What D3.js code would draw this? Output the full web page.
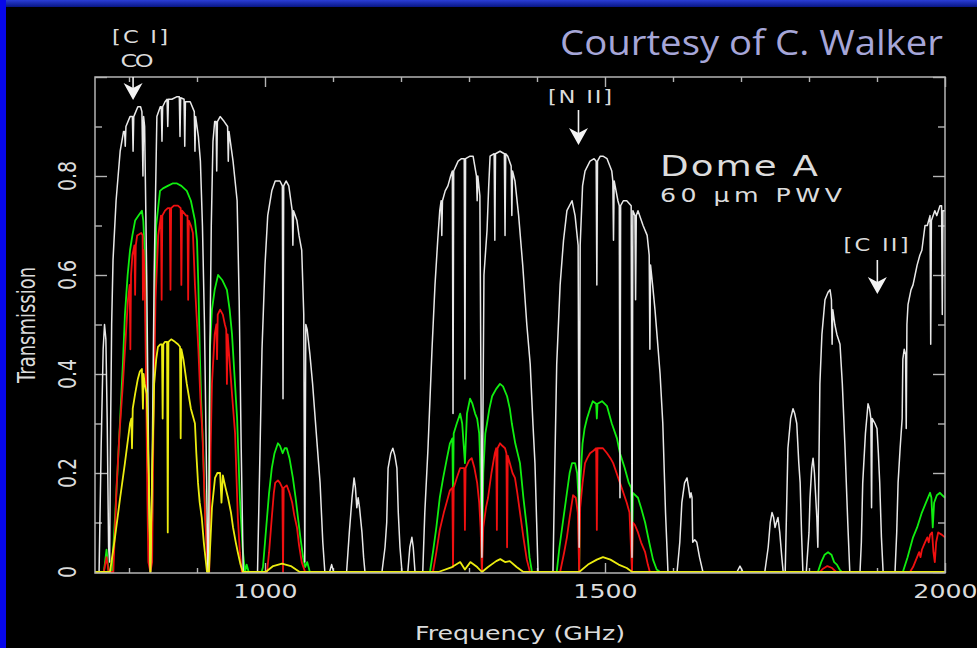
<!DOCTYPE html>
<html>
<head>
<meta charset="utf-8">
<script src="https://cdn.jsdelivr.net/npm/d3@7"></script>
<style>
  html, body { margin: 0; padding: 0; background: #000; }
  svg { display: block; }
</style>
</head>
<body>
<svg id="chart" width="977" height="648"></svg>
<script>
// Atmospheric transmission spectra, [frequency (GHz), transmission]
const traceWhite = [
  [750,0],[756,0],[759,0.25],[762,0.45],[764,0.50],[766,0.47],[768,0.30],[770,0.05],[771.5,0.02],[773,0.3],[774.5,0.5],
  [776.5,0.63],[781,0.75],[787,0.85],[792,0.89],[793.5,0.89],[794.5,0.86],[795.5,0.9],[801.5,0.92],[805,0.92],[806,0.85],
  [807,0.92],[813,0.94],[817,0.94],[819,0.93],[820.5,0.80],[821.5,0.92],[823,0.9],[826,0.6],[829,0.2],[831.5,0],[834,0.2],
  [837,0.6],[841,0.92],[846,0.94],[847.5,0.94],[848.5,0.87],[849.5,0.94],[853,0.95],[856,0.955],[857,0.90],[858,0.955],
  [863,0.955],[870,0.96],[874,0.96],[875,0.88],[876,0.958],[881,0.955],[882,0.86],[883,0.95],[890,0.95],[896,0.93],
  [897,0.85],[898,0.92],[902,0.88],[905,0.83],[908,0.70],[911,0.50],[913.5,0.25],[916,0],[917,0],[919,0.45],[921,0.7],
  [923.5,0.87],[926,0.91],[928,0.91],[929,0.81],[930,0.91],[934,0.92],[940,0.91],[945,0.90],[946,0.83],[947,0.89],
  [953,0.83],[959,0.75],[962,0.55],[965,0.25],[968,0],[989,0],[992,0.2],[995.6,0.45],[1000,0.62],[1004,0.72],[1010,0.77],
  [1015,0.79],[1022,0.79],[1025.5,0.78],[1026.5,0.35],[1027.5,0.78],[1031,0.79],[1035,0.78],[1040,0.73],[1041,0.66],
  [1042,0.73],[1047,0.71],[1050,0.68],[1054,0.65],[1057,0.52],[1058.5,0.02],[1060,0.5],[1062,0.49],[1066,0.44],[1070,0.38],
  [1076,0.27],[1081,0.18],[1085,0.06],[1088,0],[1095,0],[1098,0.015],[1101,0],[1120,0],[1124,0.08],[1128,0.15],[1131,0.19],
  [1133,0.17],[1135,0.13],[1137,0.15],[1139,0.13],[1142.6,0.08],[1145,0.03],[1147,0],[1172,0],[1176.5,0.05],[1179,0.1],
  [1181,0.21],[1185,0.24],[1188,0.25],[1191,0.235],[1194,0.21],[1196,0.12],[1198.5,0.05],[1201.5,0],[1210,0],[1213,0.05],
  [1216,0.07],[1218,0.05],[1220.6,0],[1232,0],[1235,0.12],[1239.7,0.25],[1245.6,0.45],[1250,0.58],[1254,0.67],[1257,0.73],
  [1259,0.75],[1260,0.68],[1261,0.75],[1265,0.77],[1269,0.78],[1273,0.80],[1275.5,0.81],[1276.5,0.32],[1277.5,0.81],
  [1284,0.83],[1289,0.835],[1293,0.835],[1294,0.39],[1295,0.835],[1301.5,0.84],[1306,0.84],[1311,0.80],[1312,0.75],
  [1313,0.80],[1316,0.76],[1319,0.03],[1322,0.6],[1326.5,0.69],[1329,0.78],[1331,0.84],[1337,0.845],[1338,0.67],
  [1339,0.845],[1345.6,0.85],[1352,0.845],[1353,0.68],[1354,0.845],[1357,0.84],[1362,0.82],[1363,0.72],[1364,0.81],
  [1367.6,0.79],[1373,0.72],[1379,0.62],[1385,0.50],[1390,0.42],[1394,0.30],[1397,0.22],[1399.5,0.1],[1401.5,0],
  [1423.5,0],[1426,0.2],[1429,0.42],[1434,0.58],[1439,0.67],[1444,0.73],[1451.5,0.75],[1456,0.72],[1460.5,0.66],
  [1462,0.05],[1463.5,0.66],[1467,0.78],[1470.6,0.81],[1478,0.83],[1484,0.835],[1487,0.83],[1488,0.58],[1489,0.83],
  [1493,0.84],[1497,0.84],[1503,0.835],[1510,0.81],[1511.5,0.79],[1512.5,0.67],[1513.5,0.79],[1519,0.75],[1521,0.74],
  [1522,0.15],[1523,0.74],[1527,0.75],[1532,0.75],[1538.5,0.74],[1539.7,0.03],[1541,0.73],[1544,0.72],[1545,0.55],
  [1546,0.72],[1548.5,0.73],[1556,0.70],[1562,0.68],[1565,0.64],[1566,0.45],[1567,0.62],[1570,0.58],[1573.5,0.53],
  [1577,0.47],[1581,0.40],[1585,0.30],[1589,0.12],[1592.6,0],[1606,0],[1610,0.06],[1613,0.14],[1617,0.18],[1620.6,0.19],
  [1623,0.17],[1625,0.15],[1626.5,0.16],[1628,0.15],[1629,0.06],[1632,0.065],[1635,0.06],[1639,0.03],[1644,0],[1694,0],
  [1698.5,0.012],[1703,0],[1735,0],[1740,0.05],[1743,0.1],[1745.6,0.12],[1748,0.11],[1750,0.09],[1752,0.1],[1754.4,0.11],
  [1757,0.08],[1760,0.03],[1762,0],[1765,0],[1769,0.25],[1773,0.31],[1776.5,0.33],[1779,0.32],[1782,0.30],[1785,0.22],
  [1787,0.18],[1789,0.08],[1791,0],[1796,0],[1800,0.08],[1801.5,0.15],[1804,0.21],[1806,0.23],[1808,0.2],[1811.5,0.11],
  [1813,0.05],[1814,0.15],[1816,0.38],[1819,0.48],[1823.5,0.55],[1828,0.565],[1831,0.57],[1833,0.55],[1834,0.46],
  [1835,0.53],[1838,0.50],[1841,0.48],[1845.6,0.46],[1849,0.38],[1853,0.25],[1857,0.1],[1860,0],[1875,0],[1877,0.06],
  [1879,0.18],[1883,0.28],[1886.8,0.34],[1889,0.33],[1891,0.31],[1892,0.13],[1893,0.31],[1897,0.30],[1900,0.29],
  [1902,0.24],[1904,0.18],[1906.5,0.07],[1909,0],[1926.5,0],[1929,0.08],[1931,0.18],[1934,0.25],[1937,0.31],[1938,0.43],
  [1940,0.45],[1942,0.44],[1943,0.29],[1944,0.5],[1945.6,0.54],[1950,0.57],[1953,0.58],[1956,0.60],[1959,0.62],
  [1963,0.64],[1966,0.65],[1970.6,0.70],[1974,0.70],[1978,0.72],[1979,0.46],[1980,0.71],[1985,0.73],[1988,0.72],
  [1992.6,0.74],[1995,0.74],[1996,0.52],[1997,0.73],[2000,0.73]
];

const traceGreen = [
  [750,0],[763,0],[767,0.045],[770,0],[775,0],[779,0.1],[783,0.2],[787,0.31],[791,0.42],[794,0.52],[798,0.6],[801.5,0.65],
  [805,0.68],[809,0.71],[814,0.72],[819,0.73],[821,0.71],[823,0.65],[826,0.4],[829,0.1],[831.5,0],[834,0.1],[837,0.45],
  [840,0.7],[845.6,0.77],[850,0.775],[857,0.78],[864,0.785],[870.6,0.785],[877,0.78],[885,0.77],[891,0.75],[897,0.71],
  [900,0.67],[902,0.58],[904,0.45],[906,0.35],[909,0.25],[912,0.12],[916,0],[917,0],[919,0.45],[922,0.53],[926,0.57],
  [931,0.60],[937,0.59],[944,0.57],[948,0.53],[951.5,0.48],[955,0.40],[959,0.31],[963,0.15],[967,0.05],[970.6,0],
  [973,0.015],[976,0],[995,0],[997,0.01],[1000,0.06],[1003,0.11],[1006,0.16],[1010,0.21],[1014,0.24],[1019,0.26],
  [1022,0.255],[1026,0.24],[1029,0.25],[1032,0.25],[1036,0.23],[1041,0.19],[1045,0.15],[1048.5,0.11],[1052,0.07],
  [1056,0.03],[1059,0.01],[1062,0.02],[1066,0],[1242.6,0],[1247,0.04],[1252,0.09],[1257,0.15],[1262,0.19],[1267.6,0.23],
  [1272,0.26],[1275.5,0.27],[1276.5,0.15],[1277.5,0.28],[1282,0.30],[1287,0.32],[1290,0.30],[1294,0.22],[1297,0.32],
  [1301.5,0.35],[1305,0.34],[1309,0.32],[1312,0.31],[1315,0.28],[1317,0.2],[1319,0],[1321,0.2],[1324,0.28],[1326.5,0.30],
  [1330,0.33],[1334,0.355],[1340,0.37],[1345.6,0.38],[1350,0.375],[1356,0.355],[1360,0.33],[1363,0.30],[1368,0.26],
  [1375,0.22],[1380,0.15],[1385,0.09],[1389,0.03],[1392.6,0],[1429,0],[1433,0.05],[1438,0.10],[1443,0.15],[1448,0.20],
  [1451.5,0.22],[1456,0.22],[1459,0.20],[1461,0.15],[1462,0],[1463.5,0.18],[1467,0.26],[1470,0.29],[1473.5,0.31],
  [1478,0.33],[1482,0.345],[1487,0.34],[1488,0.31],[1489,0.34],[1495.6,0.345],[1503,0.335],[1510,0.30],[1517.6,0.27],
  [1522,0.24],[1529,0.21],[1535,0.18],[1538.5,0.17],[1539.7,0],[1541,0.16],[1548.5,0.15],[1553,0.13],[1559,0.10],
  [1565,0.06],[1570.6,0.025],[1576,0.005],[1581,0],[1813,0],[1818,0.02],[1823,0.035],[1828,0.04],[1833,0.035],
  [1837,0.02],[1841,0.015],[1845,0.005],[1848.5,0],[1938,0],[1945,0.03],[1953,0.07],[1959,0.09],[1966,0.12],
  [1972,0.14],[1978,0.16],[1980,0.15],[1982,0.09],[1984,0.14],[1988,0.155],[1992.6,0.16],[1996,0.155],[2000,0.15]
];

const traceRed = [
  [750,0],[763,0],[767,0.03],[770,0],[777,0],[782,0.18],[786,0.28],[791,0.38],[795,0.47],[798.5,0.55],[801,0.58],
  [802,0.45],[803,0.6],[805,0.64],[808,0.66],[809,0.56],[810,0.66],[812,0.68],[818,0.685],[820,0.68],[820.5,0.55],
  [821.5,0.65],[823,0.6],[825,0.4],[827,0.15],[828.5,0.02],[831.5,0],[834,0.02],[836,0.3],[839,0.55],[843,0.68],
  [847,0.72],[848,0.55],[849,0.72],[853,0.73],[857,0.735],[860,0.735],[861,0.57],[862,0.735],[866,0.74],[872,0.74],
  [876,0.735],[877,0.58],[878,0.73],[884,0.72],[886,0.72],[887,0.55],[888,0.71],[891,0.70],[894,0.685],[897,0.58],
  [902,0.45],[905,0.35],[908,0.28],[912,0.11],[916,0],[918,0],[920,0.25],[922,0.38],[926,0.48],[928.5,0.5],[929.5,0.43],
  [930.5,0.52],[934,0.53],[938,0.52],[941,0.50],[943,0.49],[944,0.38],[945,0.48],[948.5,0.415],[952,0.35],[956,0.28],
  [960,0.11],[963,0.04],[966,0],[1003,0],[1006,0.04],[1010,0.11],[1013,0.16],[1015,0.18],[1019,0.185],[1022,0.18],
  [1025.5,0.17],[1026.5,0],[1027.5,0.17],[1032,0.175],[1036,0.16],[1040,0.14],[1043,0.115],[1047,0.09],[1050,0.055],
  [1054,0.02],[1059,0],[1247,0],[1252,0.04],[1257,0.085],[1263,0.12],[1269,0.15],[1272,0.165],[1275.5,0.17],
  [1276.5,0.01],[1277.5,0.17],[1282,0.19],[1287,0.21],[1293,0.21],[1294,0.085],[1295,0.21],[1300,0.225],[1304,0.23],
  [1308,0.21],[1312,0.18],[1315,0.14],[1317,0.09],[1319,0],[1321,0.09],[1325,0.13],[1328,0.15],[1333,0.2],[1338,0.24],
  [1340,0.25],[1341,0.085],[1342,0.25],[1345.6,0.26],[1349,0.255],[1353,0.25],[1355,0.24],[1356,0.05],[1357,0.235],
  [1360,0.22],[1364,0.2],[1367.6,0.19],[1371,0.16],[1375,0.12],[1380,0.07],[1385,0.025],[1389.7,0],[1434,0],[1440,0.04],
  [1444,0.07],[1448,0.11],[1453,0.155],[1457,0.15],[1460,0.12],[1462,0],[1463.5,0.13],[1467,0.18],[1470.6,0.22],
  [1474,0.23],[1478,0.24],[1483,0.245],[1487,0.25],[1488,0.085],[1489,0.25],[1493,0.25],[1497,0.25],[1503,0.24],
  [1508,0.23],[1512,0.22],[1517,0.2],[1522,0.18],[1527,0.16],[1532,0.14],[1536,0.12],[1539.7,0],[1541,0.1],[1544,0.095],
  [1548.5,0.08],[1553,0.06],[1559,0.04],[1563,0.015],[1566,0],[1816,0],[1820,0.006],[1827,0.012],[1834,0.008],[1840,0],
  [1948.5,0],[1953,0.01],[1959,0.03],[1962,0.04],[1964,0.03],[1966,0.045],[1970.6,0.06],[1974,0.07],[1976,0.06],
  [1978,0.075],[1981,0.08],[1983,0.04],[1985,0.02],[1987,0.06],[1990,0.08],[1995.6,0.075],[2000,0.07]
];

const traceYellow = [
  [750,0],[772,0],[779,0.066],[787,0.15],[794,0.22],[801.5,0.30],[803.5,0.31],[804.4,0.25],[805.5,0.33],[809,0.36],
  [813,0.39],[816,0.405],[819,0.41],[820.5,0.33],[821.5,0.40],[823,0.38],[826,0.36],[829,0.2],[831.5,0],[834,0.2],
  [837,0.38],[840,0.43],[842.6,0.455],[846,0.46],[848.5,0.46],[849.5,0.31],[850.5,0.46],[853,0.465],[856,0.465],
  [857,0.08],[858,0.465],[862,0.47],[867.6,0.465],[872,0.46],[875,0.455],[876,0.27],[877,0.45],[880,0.43],[885,0.38],
  [891,0.33],[897,0.30],[899,0.24],[901.5,0.18],[904,0.14],[907,0.11],[910,0.06],[914.7,0],[917.6,0],[922,0.13],
  [926.5,0.19],[930,0.2],[934,0.2],[936,0.14],[938,0.195],[942,0.17],[945.6,0.15],[950,0.12],[953,0.09],[957,0.06],
  [960,0.04],[964,0.015],[967.6,0],[1001,0],[1012,0.012],[1025,0.017],[1038,0.012],[1051,0],[1255,0],[1275,0.01],
  [1287,0.02],[1294,0.005],[1302,0.02],[1312,0.01],[1319,0],[1328,0.01],[1340,0.022],[1346,0.026],[1353,0.02],
  [1360,0.022],[1370,0.01],[1380,0],[1462,0],[1475,0.015],[1488,0.025],[1497,0.03],[1508,0.025],[1520,0.015],
  [1532,0.008],[1540,0],[2000,0]
];

// Axis ticks and labels
const xMinorTicks = [800, 900, 1100, 1200, 1300, 1400, 1600, 1700, 1800, 1900];
const xMajorTicks = [1000, 1500, 2000];
const yMinorTicks = [0.1, 0.3, 0.5, 0.7, 0.9];
const yMajorTicks = [0, 0.2, 0.4, 0.6, 0.8, 1.0];
const yTickLabels = ["0", "0.2", "0.4", "0.6", "0.8"];

// Spectral line markers
const lineMarkers = [
  { freq: 806, lines: ["[C I]", "CO"] },
  { freq: 1461, lines: ["[N II]"] },
  { freq: 1900.5, lines: ["[C II]"] }
];

const svg = d3.select("#chart");
const W = 977, H = 648;
const box = { left: 95, right: 945, top: 77, bottom: 573 };
const SX = 1.33;          // horizontal stretch of the plot lettering
const INK = "#dcdcdc";
const AXIS = "#b4b4b4";
const FONT = "'DejaVu Sans', 'Liberation Sans', sans-serif";

// Page background and slide frame
svg.append("rect").attr("width", W).attr("height", H).attr("fill", "#000");
const defs = svg.append("defs");
const grad = defs.append("linearGradient").attr("id", "topBand").attr("x1", 0).attr("y1", 0).attr("x2", 0).attr("y2", 1);
grad.append("stop").attr("offset", "0%").attr("stop-color", "#2a3ed6");
grad.append("stop").attr("offset", "100%").attr("stop-color", "#081685");
svg.append("rect").attr("x", 0).attr("y", 0).attr("width", W).attr("height", 7).attr("fill", "url(#topBand)");
svg.append("rect").attr("x", 0).attr("y", 0).attr("width", 6).attr("height", H).attr("fill", "#0707ea");

const x = d3.scaleLinear().domain([750, 2000]).range([box.left, box.right]);
const y = d3.scaleLinear().domain([0, 1]).range([box.bottom - 1, box.top]);

// Ticks, all drawn inward on the four sides
function styleAxis(g) {
  g.select(".domain").remove();
  g.selectAll(".tick line").attr("stroke", AXIS).attr("stroke-width", 1.4);
}
svg.append("g").attr("transform", `translate(0,${box.bottom})`)
  .call(d3.axisBottom(x).tickValues(xMinorTicks).tickSize(-5).tickFormat(""))
  .call(styleAxis);
const xAxisMajor = svg.append("g").attr("transform", `translate(0,${box.bottom})`)
  .call(d3.axisBottom(x).tickValues(xMajorTicks).tickSize(-10).tickPadding(12).tickFormat(d3.format("d")))
  .call(styleAxis);
xAxisMajor.selectAll(".tick text")
  .attr("fill", INK).attr("font-family", FONT).attr("font-size", 19)
  .attr("transform", `scale(${SX},1)`);
svg.append("g").attr("transform", `translate(0,${box.top})`)
  .call(d3.axisTop(x).tickValues(xMinorTicks).tickSize(-5).tickFormat(""))
  .call(styleAxis);
svg.append("g").attr("transform", `translate(0,${box.top})`)
  .call(d3.axisTop(x).tickValues(xMajorTicks).tickSize(-10).tickFormat(""))
  .call(styleAxis);
svg.append("g").attr("transform", `translate(${box.left},0)`)
  .call(d3.axisLeft(y).tickValues(yMinorTicks).tickSize(-7).tickFormat(""))
  .call(styleAxis);
svg.append("g").attr("transform", `translate(${box.left},0)`)
  .call(d3.axisLeft(y).tickValues(yMajorTicks).tickSize(-12).tickFormat(""))
  .call(styleAxis);
svg.append("g").attr("transform", `translate(${box.right},0)`)
  .call(d3.axisRight(y).tickValues(yMinorTicks).tickSize(-7).tickFormat(""))
  .call(styleAxis);
svg.append("g").attr("transform", `translate(${box.right},0)`)
  .call(d3.axisRight(y).tickValues(yMajorTicks).tickSize(-12).tickFormat(""))
  .call(styleAxis);

// Rotated y tick labels
svg.append("g").selectAll("text").data(yTickLabels).join("text")
  .attr("transform", d => `translate(76,${y(+d)}) scale(${SX},1) rotate(-90)`)
  .attr("text-anchor", "middle")
  .attr("fill", INK).attr("font-family", FONT).attr("font-size", 19)
  .text(d => d);

// Axis titles
svg.append("text")
  .attr("transform", `translate(35,${(box.top + box.bottom) / 2}) scale(${SX},1) rotate(-90)`)
  .attr("text-anchor", "middle").attr("fill", INK).attr("font-family", FONT).attr("font-size", 18)
  .text("Transmission");
svg.append("text")
  .attr("transform", `translate(${(box.left + box.right) / 2},640) scale(${SX},1)`)
  .attr("text-anchor", "middle").attr("fill", INK).attr("font-family", FONT).attr("font-size", 19)
  .text("Frequency (GHz)");

// Spectra
const line = d3.line().x(d => x(d[0])).y(d => y(d[1]));
const plot = svg.append("g");
const series = [
  { data: traceGreen, color: "#10ee10", width: 1.8 },
  { data: traceRed, color: "#f01010", width: 1.8 },
  { data: traceWhite, color: "#e8e8e8", width: 1.5 },
  { data: traceYellow, color: "#ecec10", width: 1.8 }
];
plot.selectAll("path").data(series).join("path")
  .attr("d", d => line(d.data))
  .attr("fill", "none")
  .attr("stroke", d => d.color)
  .attr("stroke-width", d => d.width)
  .attr("stroke-linejoin", "round");

// Frame box
svg.append("rect")
  .attr("x", box.left).attr("y", box.top)
  .attr("width", box.right - box.left).attr("height", box.bottom - box.top)
  .attr("fill", "none").attr("stroke", AXIS).attr("stroke-width", 1.5);

// Line markers: labels and arrows
function arrow(fx, y0, tip) {
  const cx = x(fx);
  svg.append("line").attr("x1", cx).attr("x2", cx).attr("y1", y0).attr("y2", tip - 8)
    .attr("stroke", "#f0f0f0").attr("stroke-width", 1.6);
  svg.append("path")
    .attr("d", `M${cx},${tip} L${cx - 9.5},${tip - 17} L${cx},${tip - 12} L${cx + 9.5},${tip - 17} Z`)
    .attr("fill", "#f4f4f4");
}
function label(cx, base, txt, size, width) {
  const t = svg.append("text")
    .attr("transform", `translate(${cx},${base}) scale(${SX},1)`)
    .attr("text-anchor", "middle").attr("fill", INK)
    .attr("font-family", FONT).attr("font-size", size)
    .text(txt);
  if (width) t.attr("textLength", width / SX).attr("lengthAdjust", "spacing");
}
const ci = lineMarkers[0], nii = lineMarkers[1], cii = lineMarkers[2];
label(140, 43, ci.lines[0], 17, 56);
label(137, 67, ci.lines[1], 18, 33);
arrow(ci.freq, box.top, 100);
label(580, 103, nii.lines[0], 17, 64);
arrow(nii.freq, 110, 145);
label(876, 251, cii.lines[0], 17, 65);
arrow(cii.freq, 260, 294);

// Site annotation
svg.append("text")
  .attr("transform", `translate(660,176) scale(${SX},1)`)
  .attr("fill", INK).attr("font-family", FONT).attr("font-size", 28)
  .attr("textLength", 158 / SX).attr("lengthAdjust", "spacing")
  .text("Dome A");
svg.append("text")
  .attr("transform", `translate(660,202) scale(${SX},1)`)
  .attr("fill", INK).attr("font-family", FONT).attr("font-size", 19)
  .attr("textLength", 182 / SX).attr("lengthAdjust", "spacing")
  .text("60 \u03bcm PWV");

// Credit line
svg.append("text")
  .attr("x", 943).attr("y", 55)
  .attr("text-anchor", "end")
  .attr("fill", "#a6a6d8")
  .attr("font-family", "'Comic Sans MS', 'Open Sans', 'DejaVu Sans', sans-serif")
  .attr("font-size", 34)
  .attr("textLength", 383).attr("lengthAdjust", "spacingAndGlyphs")
  .text("Courtesy of C. Walker");
</script>
</body>
</html>
